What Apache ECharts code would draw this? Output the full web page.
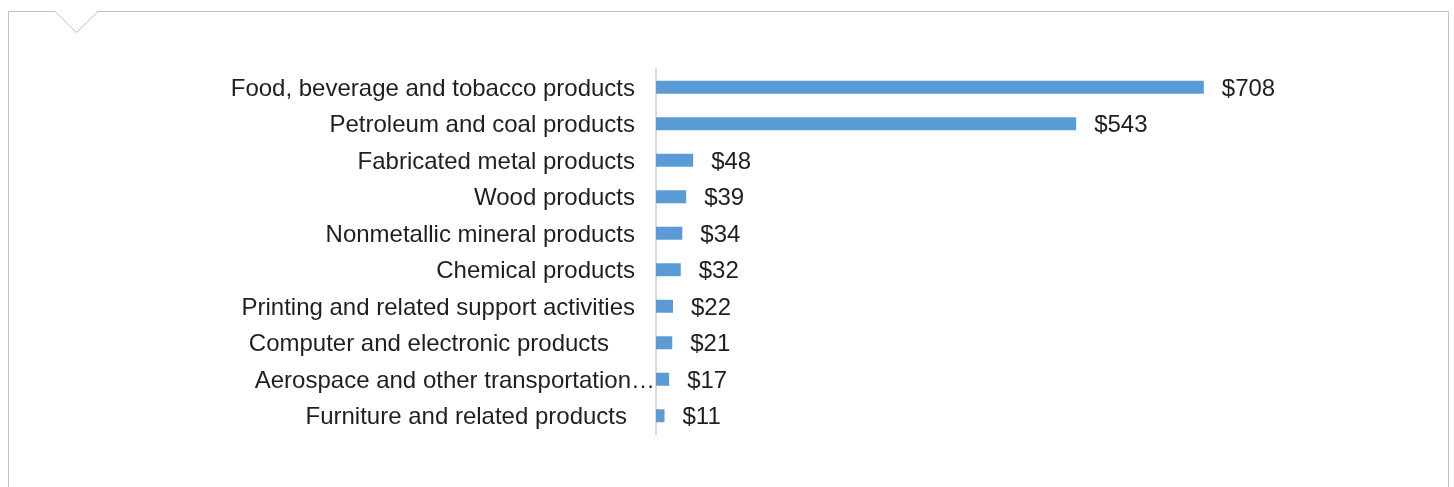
<!DOCTYPE html>
<html>
<head>
<meta charset="utf-8">
<script src="https://cdn.jsdelivr.net/npm/echarts@6/dist/echarts.min.js"></script>
<style>
html,body{margin:0;padding:0;background:#fff;}
#chart{width:1454px;height:487px;}
</style>
</head>
<body>
<div id="chart"></div>
<script>
const categories = [
  "Food, beverage and tobacco products",
  "Petroleum and coal products",
  "Fabricated metal products",
  "Wood products",
  "Nonmetallic mineral products",
  "Chemical products",
  "Printing and related support activities",
  "Computer and electronic products",
  "Aerospace and other transportation\u2026",
  "Furniture and related products"
];
const values = [708, 543, 48, 39, 34, 32, 22, 21, 17, 11];

// label alignment styles (layout only)
const labelStyle = { 7: 'c', 8: 'a', 9: 'f' };
const baseTxt = { color: '#1f1f1f', fontSize: 24, padding: [4, 20, 0, 0] };

const chart = echarts.init(document.getElementById('chart'));
chart.setOption({
  animation: false,
  backgroundColor: '#ffffff',
  textStyle: { fontFamily: 'Liberation Sans, Arial, sans-serif' },
  graphic: [{
    type: 'polyline',
    shape: { points: [[8.5, 490], [8.5, 11.5], [55, 11.5], [76.5, 32.5], [98, 11.5], [1448.5, 11.5], [1448.5, 490]] },
    style: { stroke: '#bfbfbf', lineWidth: 1, fill: null },
    silent: true
  }],
  grid: { left: 656, right: 179, top: 69, bottom: 53, containLabel: false },
  xAxis: {
    type: 'value', min: 0, max: 800,
    axisLine: { show: false }, axisTick: { show: false },
    axisLabel: { show: false }, splitLine: { show: false }
  },
  yAxis: {
    type: 'category', data: categories, inverse: true,
    axisLine: { show: true, lineStyle: { color: '#d9d9d9', width: 2 } },
    axisTick: { show: false },
    axisLabel: {
      margin: 1,
      formatter: (v, i) => '{' + (labelStyle[i] || 'n') + '|' + v + '}',
      rich: {
        n: Object.assign({}, baseTxt),
        c: Object.assign({}, baseTxt, { padding: [4, 46, 0, 0] }),
        f: Object.assign({}, baseTxt, { padding: [4, 28, 0, 0] }),
        a: Object.assign({}, baseTxt, { padding: [4, 0, 0, 0] })
      }
    }
  },
  series: [{
    type: 'bar', data: values, barWidth: 13,
    itemStyle: { color: '#5B9BD5' },
    label: {
      show: true, position: 'right', distance: 18, offset: [0, 2],
      color: '#1f1f1f', fontSize: 24,
      formatter: p => '$' + p.value
    }
  }]
});
</script>
</body>
</html>
